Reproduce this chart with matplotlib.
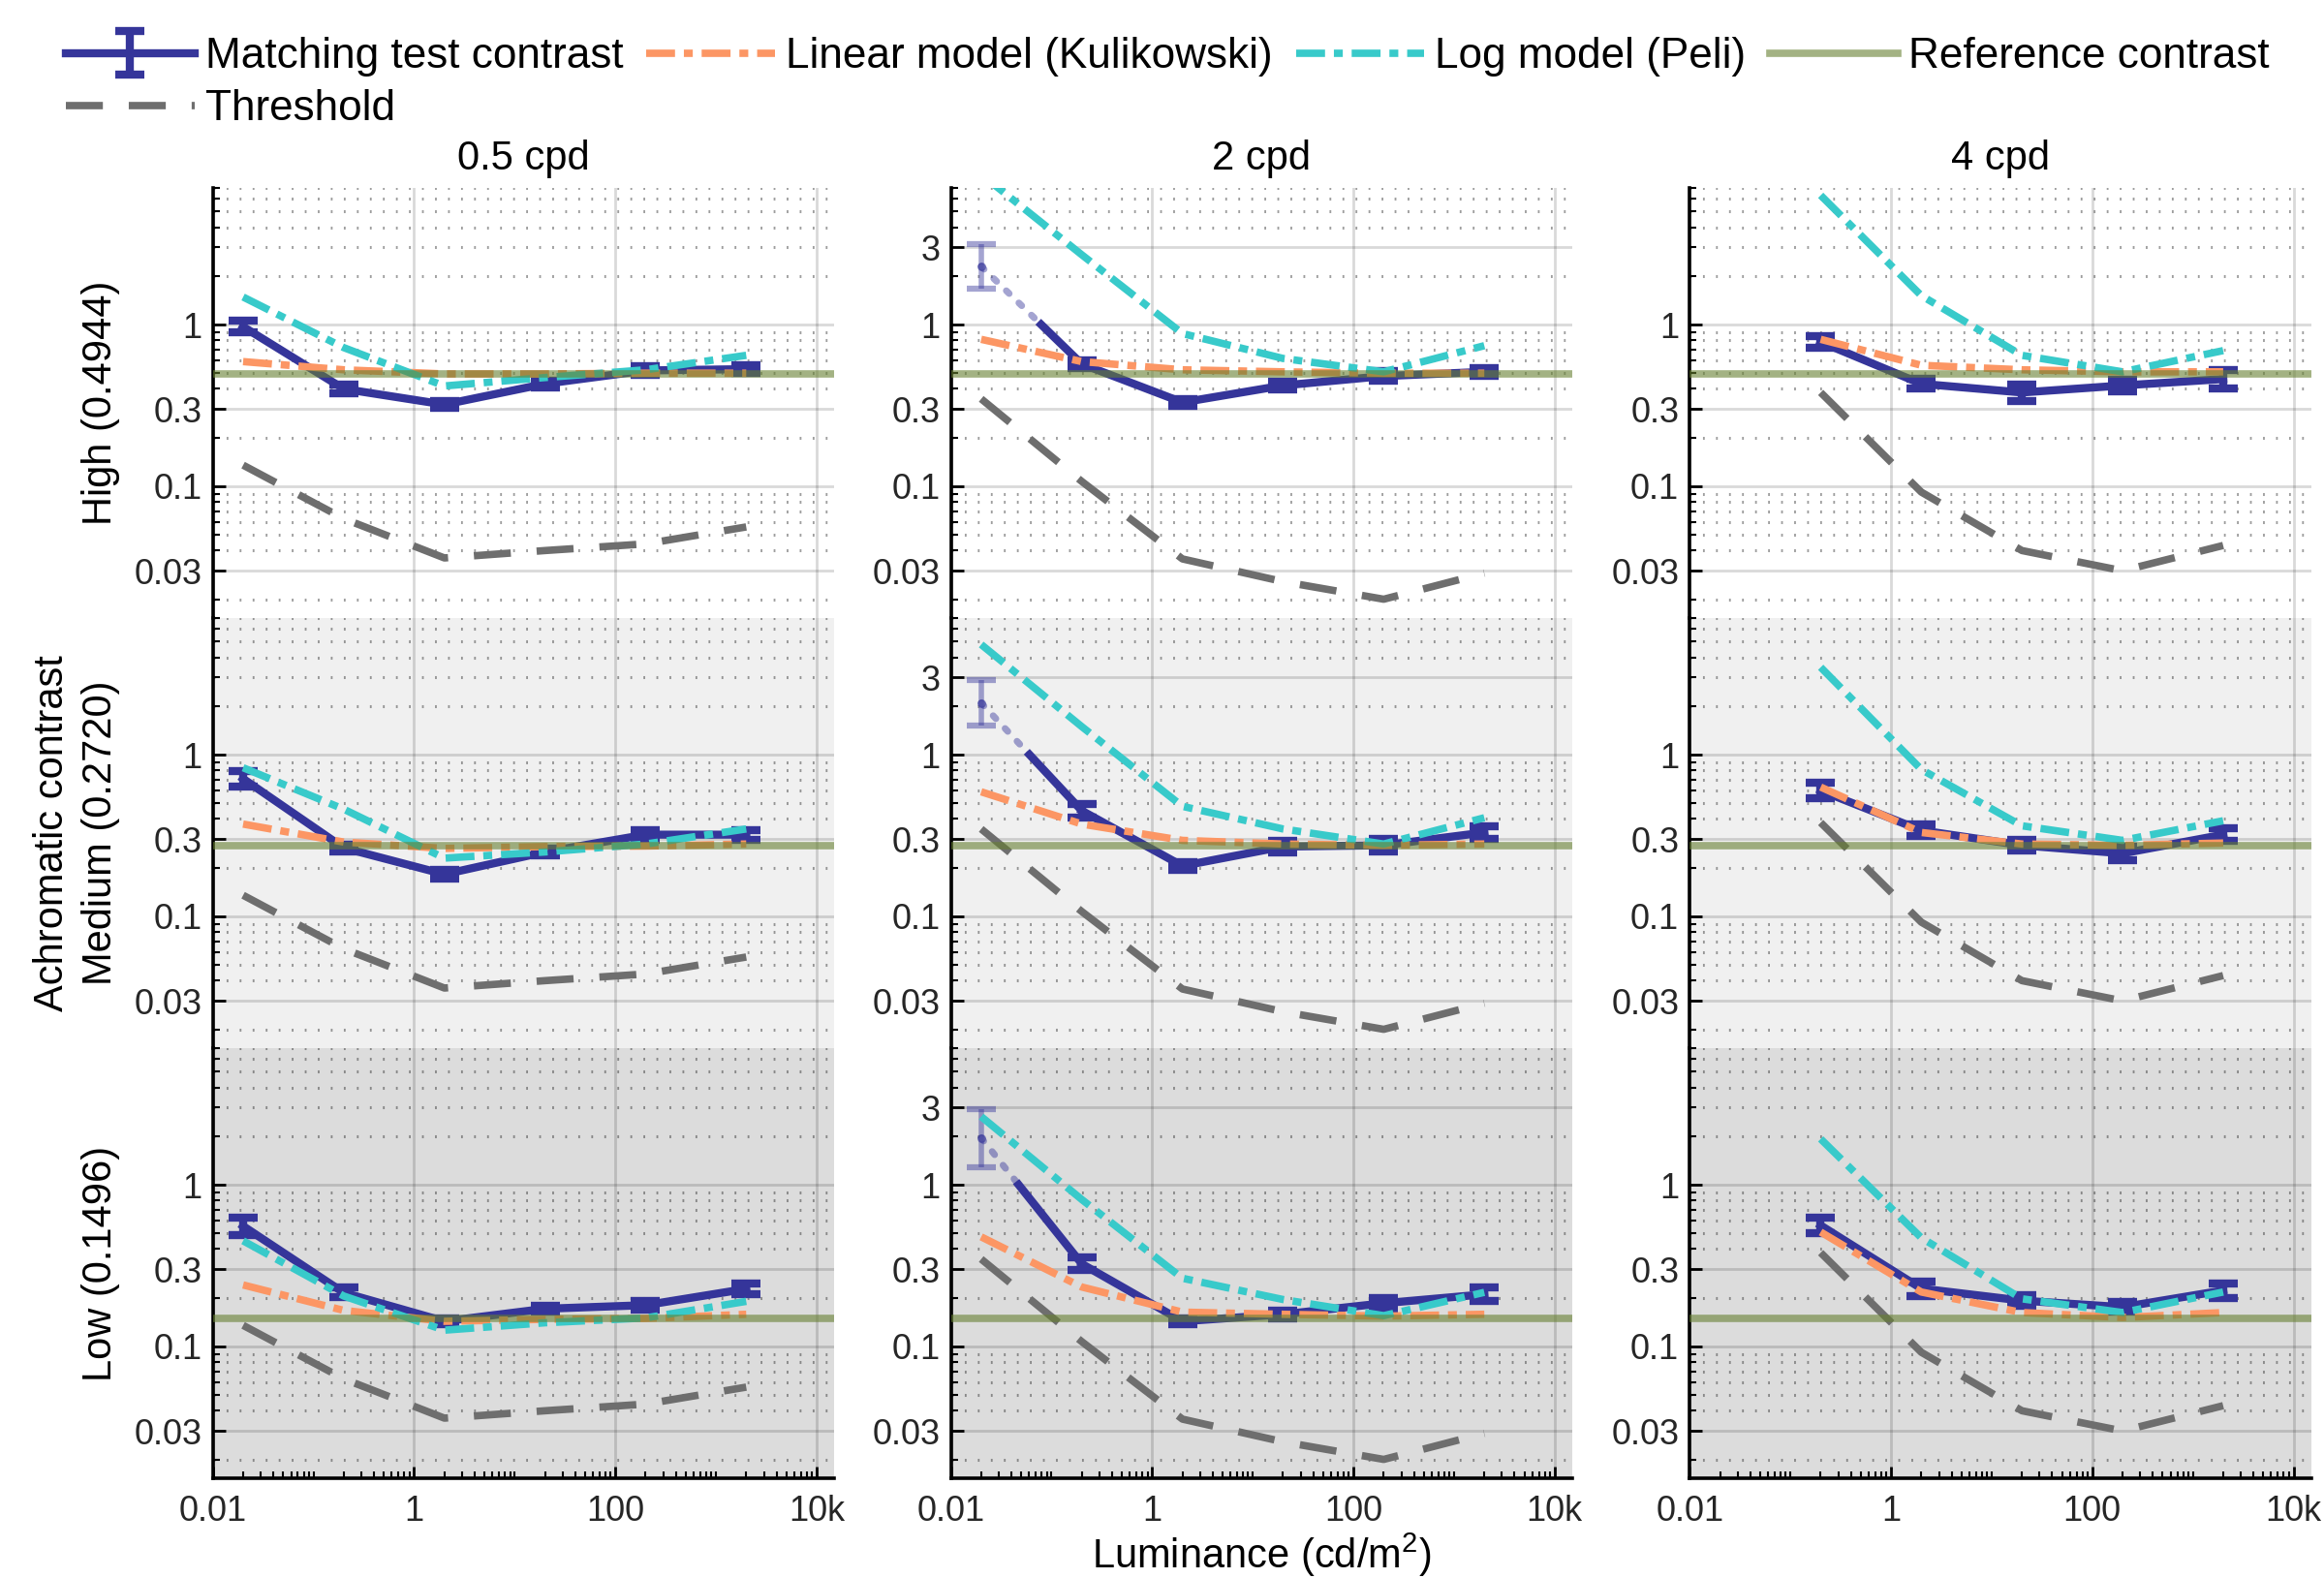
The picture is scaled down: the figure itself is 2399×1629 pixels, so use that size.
import numpy as np
import matplotlib
matplotlib.use("Agg")
import matplotlib.pyplot as plt
from matplotlib.ticker import LogLocator, NullFormatter

plt.rcParams['font.family'] = ['Liberation Sans', 'DejaVu Sans']
plt.rcParams['mathtext.default'] = 'regular'

# ---------------- data ----------------
luminance = [0.02, 0.2, 2, 20, 200, 2000]
freq_titles = ['0.5 cpd', '2 cpd', '4 cpd']
row_labels = ['High (0.4944)', 'Medium (0.2720)', 'Low (0.1496)']
reference_contrast = [0.4944, 0.2720, 0.1496]
nan = float('nan')

# matching test contrast [0.5 cpd, 2 cpd, 4 cpd]
match_high = [[0.97, 0.40, 0.32, 0.43, 0.52, 0.53],
              [2.29, 0.57, 0.33, 0.42, 0.48, 0.51],
              [nan, 0.78, 0.43, 0.38, 0.42, 0.46]]
match_medium = [[0.71, 0.265, 0.182, 0.25, 0.32, 0.32],
                [2.09, 0.45, 0.205, 0.27, 0.275, 0.33],
                [nan, 0.60, 0.34, 0.275, 0.245, 0.32]]
match_low = [[0.555, 0.215, 0.143, 0.171, 0.18, 0.227],
             [1.95, 0.324, 0.143, 0.158, 0.185, 0.21],
             [nan, 0.56, 0.228, 0.192, 0.175, 0.222]]

# error half-widths in log10 units
err_high = [[0.035, 0.025, 0.02, 0.02, 0.025, 0.025],
            [0.14, 0.025, 0.02, 0.025, 0.03, 0.025],
            [nan, 0.035, 0.03, 0.05, 0.035, 0.055]]
err_medium = [[0.05, 0.02, 0.025, 0.02, 0.03, 0.03],
              [0.14, 0.04, 0.025, 0.035, 0.04, 0.04],
              [nan, 0.05, 0.035, 0.035, 0.04, 0.04]]
err_low = [[0.055, 0.03, 0.02, 0.02, 0.025, 0.033],
           [0.18, 0.04, 0.02, 0.025, 0.035, 0.04],
           [nan, 0.05, 0.045, 0.035, 0.03, 0.045]]

# linear model (Kulikowski)
linear_high = [[0.59, 0.525, 0.495, 0.495, 0.5, 0.5],
               [0.81, 0.59, 0.525, 0.51, 0.5, 0.5],
               [nan, 0.81, 0.56, 0.525, 0.51, 0.51]]
linear_medium = [[0.372, 0.288, 0.263, 0.27, 0.272, 0.28],
                 [0.589, 0.372, 0.295, 0.28, 0.275, 0.28],
                 [nan, 0.63, 0.33, 0.28, 0.275, 0.284]]
linear_low = [[0.24, 0.167, 0.143, 0.147, 0.149, 0.158],
              [0.476, 0.233, 0.163, 0.158, 0.154, 0.158],
              [nan, 0.51, 0.217, 0.162, 0.151, 0.162]]

# log model (Peli)
log_high = [[1.48, 0.72, 0.417, 0.47, 0.525, 0.645],
            [8.5, 2.7, 0.88, 0.617, 0.51, 0.74],
            [nan, 6.3, 1.51, 0.645, 0.51, 0.69]]
log_medium = [[0.83, 0.46, 0.229, 0.25, 0.28, 0.347],
              [4.8, 1.49, 0.479, 0.347, 0.28, 0.407],
              [nan, 3.47, 0.81, 0.363, 0.295, 0.39]]
log_low = [[0.45, 0.205, 0.126, 0.14, 0.15, 0.19],
           [2.64, 0.81, 0.264, 0.195, 0.155, 0.216],
           [nan, 1.92, 0.47, 0.197, 0.162, 0.217]]

# detection threshold per spatial frequency
threshold = [[0.135, 0.063, 0.036, 0.040, 0.044, 0.056],
             [0.347, 0.107, 0.0355, 0.0257, 0.020, 0.029],
             [nan, 0.38, 0.092, 0.040, 0.030, 0.043]]

x_ticks = [0.01, 1, 100, 10000]
x_ticklabels = ['0.01', '1', '100', '10k']
y_ticks_side = [0.03, 0.1, 0.3, 1]
y_ticklabels_side = ['0.03', '0.1', '0.3', '1']
y_ticks_mid = [0.03, 0.1, 0.3, 1, 3]
y_ticklabels_mid = ['0.03', '0.1', '0.3', '1', '3']

match_rows = [match_high, match_medium, match_low]
err_rows = [err_high, err_medium, err_low]
linear_rows = [linear_high, linear_medium, linear_low]
log_rows = [log_high, log_medium, log_low]

# ---------------- style ----------------
NAVY = '#35359a'
ORANGE = '#fc9664'
CYAN = '#38caca'
GREEN = '#668030'
GRAY = '#6e6e6e'
row_bg = ['#ffffff', '#f0f0f0', '#dcdcdc']
TXT = '#262626'
DASHDOT = (3.9, 1.2, 1.2, 1.2)

W, H = 2399, 1629
fig = plt.figure(figsize=(W / 100, H / 100), dpi=100)

col_left_px = [219.7, 981.6, 1744.3]
col_w_px = 641.5
row_top_px = [194, 638, 1082]
row_h_px = 444

lum = np.array(luminance)
handles = {}

for r in range(3):
    for c in range(3):
        ax = fig.add_axes([col_left_px[c] / W, 1 - (row_top_px[r] + row_h_px) / H,
                           col_w_px / W, row_h_px / H])
        ax.set_facecolor(row_bg[r])
        ax.set_xscale('log')
        ax.set_yscale('log')
        ax.set_xlim(0.01, 15000)
        ax.set_ylim(0.0153, 7.0)

        ax.set_xticks(x_ticks)
        if c == 1:
            ax.set_yticks(y_ticks_mid)
            ax.set_yticklabels(y_ticklabels_mid)
        else:
            ax.set_yticks(y_ticks_side)
            ax.set_yticklabels(y_ticklabels_side)
        ax.yaxis.set_minor_locator(LogLocator(base=10, subs=range(1, 10), numticks=30))
        ax.yaxis.set_minor_formatter(NullFormatter())
        ax.xaxis.set_minor_locator(LogLocator(base=10, subs=range(1, 10), numticks=30))
        ax.xaxis.set_minor_formatter(NullFormatter())
        if r == 2:
            ax.set_xticklabels(x_ticklabels)
        else:
            ax.set_xticklabels([])
        ax.grid(True, which='major', axis='both', color='k', alpha=0.15, lw=2.0, ls='-', zorder=0)
        ax.grid(True, which='minor', axis='y', color='k', alpha=0.38, lw=2.2,
                ls=(0, (0.6, 3.8)), zorder=0)
        ax.set_axisbelow(True)

        for s in ['top', 'right']:
            ax.spines[s].set_visible(False)
        ax.spines['left'].set_linewidth(2.6)
        ax.spines['left'].set_color('k')
        if r == 2:
            ax.spines['bottom'].set_linewidth(2.6)
            ax.spines['bottom'].set_color('k')
        else:
            ax.spines['bottom'].set_visible(False)
        ax.tick_params(which='major', direction='in', length=9, width=2, labelsize=26,
                       labelcolor=TXT, pad=8, top=False, right=False, bottom=(r == 2))
        ax.tick_params(which='minor', direction='in', length=5, width=1.5,
                       top=False, right=False, bottom=(r == 2))
        ax.tick_params(axis='x', which='major', pad=12)

        # threshold
        th = np.array(threshold[c], float)
        ok = np.isfinite(th)
        h_th, = ax.plot(lum[ok], th[ok], color=GRAY, lw=5.5, dashes=(5, 3.5), zorder=2)

        # matching
        y = np.array(match_rows[r][c], float)
        e = np.array(err_rows[r][c], float)
        lo = y - y / 10 ** e
        hi = y * 10 ** e - y
        valid = np.isfinite(y)
        inrange = valid & (y <= 1)
        faded = valid & (y > 1)
        h_m = ax.errorbar(lum[inrange], y[inrange], yerr=[lo[inrange], hi[inrange]],
                          color=NAVY, lw=6, elinewidth=6, capsize=11, capthick=6,
                          zorder=3)
        if faded.any():
            i0 = np.where(faded)[0][-1]
            i1 = i0 + 1
            lx0, lx1 = np.log10(lum[i0]), np.log10(lum[i1])
            ly0, ly1 = np.log10(y[i0]), np.log10(y[i1])
            t = (0 - ly0) / (ly1 - ly0)
            xc = 10 ** (lx0 + t * (lx1 - lx0))
            ax.plot([lum[i0], xc], [y[i0], 1.0], color=NAVY, alpha=0.45, lw=5,
                    ls=(0, (0.6, 2.0)), dash_capstyle='round', zorder=3)
            ax.plot([xc, lum[i1]], [1.0, y[i1]], color=NAVY, lw=6, zorder=3)
            ax.errorbar(lum[faded], y[faded], yerr=[lo[faded], hi[faded]], fmt='.',
                        color=NAVY, alpha=0.45, ms=11, elinewidth=4, capsize=11,
                        capthick=4.5, zorder=3)

        # models
        yl = np.array(linear_rows[r][c], float)
        ok = np.isfinite(yl)
        h_lin, = ax.plot(lum[ok], yl[ok], color=ORANGE, lw=5.5, dashes=DASHDOT, zorder=4)
        yg = np.array(log_rows[r][c], float)
        ok = np.isfinite(yg)
        h_log, = ax.plot(lum[ok], yg[ok], color=CYAN, lw=5.5, dashes=DASHDOT, zorder=5)

        # reference
        h_ref = ax.axhline(reference_contrast[r], color=GREEN, alpha=0.6, lw=5.5, zorder=6)

        if r == 0:
            ax.set_title(freq_titles[c], fontsize=30, pad=14)
        if r == 2 and c == 1:
            ax.set_xlabel('Luminance (cd/m$^2$)', fontsize=30, labelpad=2)
        if r == 0 and c == 0:
            handles = [h_m, h_th, h_lin, h_log, h_ref]

# row labels
for r in range(3):
    yc = 1 - (row_top_px[r] + row_h_px / 2) / H
    fig.text(104 / W, yc, row_labels[r], rotation=90, ha='center', va='center', fontsize=30)
fig.text(54 / W, 1 - (row_top_px[1] + row_h_px / 2) / H, 'Achromatic contrast',
         rotation=90, ha='center', va='center', fontsize=30)

labels = ['Matching test contrast', 'Threshold', 'Linear model (Kulikowski)',
          'Log model (Peli)', 'Reference contrast']
fig.legend(handles, labels, loc='upper left', bbox_to_anchor=(68 / W, 1 - 38 / H),
           ncol=4, frameon=False, fontsize=31.8, handlelength=3.0, handletextpad=0.25,
           columnspacing=0.55, borderpad=0, borderaxespad=0, labelspacing=0.3)

fig.savefig('out.png', dpi=100)
